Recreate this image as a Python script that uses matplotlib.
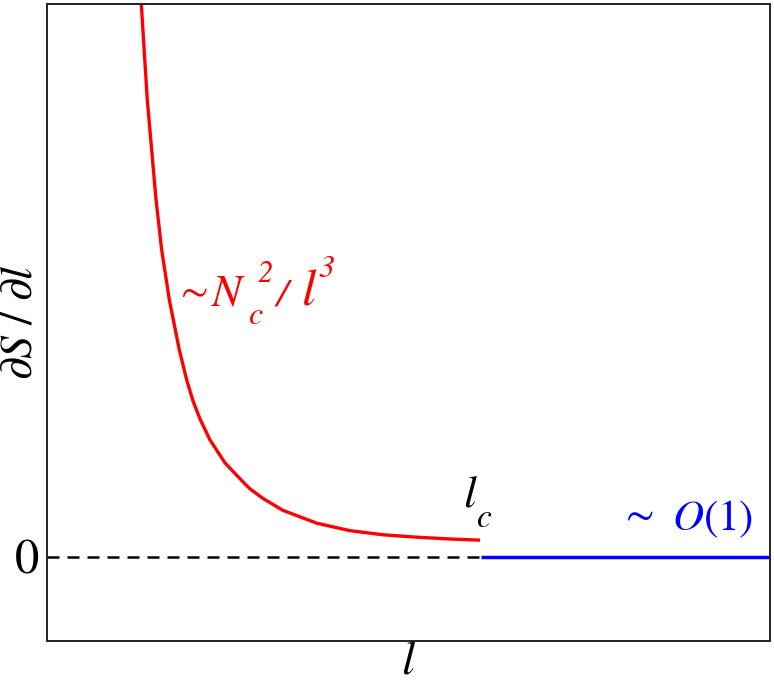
import matplotlib
matplotlib.use("Agg")
import matplotlib.pyplot as plt

plt.rcParams['mathtext.fontset'] = 'stix'
plt.rcParams['font.family'] = ['STIXGeneral', 'DejaVu Serif']

# red branch: points (l, dS/dl)
red_l = [1.281, 1.304, 1.387, 1.508, 1.586, 1.692, 1.830, 1.932, 2.019, 2.116,
         2.254, 2.462, 2.711, 2.808, 2.988, 3.264, 3.734, 4.191, 4.647, 5.118,
         5.574, 5.989]
red_y = [6.869, 6.583, 5.440, 4.250, 3.655, 3.060, 2.464, 2.107, 1.857, 1.643,
         1.393, 1.119, 0.893, 0.810, 0.696, 0.554, 0.401, 0.313, 0.264, 0.235,
         0.214, 0.200]
# dashed zero line below l_c
dash_l = [0.0, 6.1]
dash_y = [0.0, 0.0]
# blue branch above l_c
blue_l = [6.0, 10.0]
blue_y = [0.0, 0.0]

yticks = [0]
ytick_labels = ['0']

W, H = 774, 686
fig = plt.figure(figsize=(W / 100, H / 100), dpi=100)
ax = fig.add_axes([47 / W, 45 / H, 723 / W, 637 / H])


def ptext(x, y, s, size, color, style='italic', ha='left'):
    fig.text(x / W, 1 - y / H, s, fontsize=size, color=color, style=style,
             ha=ha, va='baseline', family=['STIXGeneral', 'DejaVu Serif'])


ax.plot(dash_l, dash_y, color='black', lw=1.8, ls=(0, (4.8, 3.2)))
ax.plot(red_l, red_y, color='#ff0000', lw=2.4, solid_capstyle='butt', solid_joinstyle='round')
ax.plot(blue_l, blue_y, color='#0000ff', lw=2.5, solid_capstyle='butt')

ax.set_xlim(0, 10)
ax.set_ylim(-1, 6.58)
ax.set_xticks([])
ax.set_yticks(yticks)
ax.set_yticklabels(ytick_labels, fontsize=35)
ax.tick_params(axis='y', length=0, pad=6)

for s in ax.spines.values():
    s.set_color('#222222')
    s.set_linewidth(1.4)

# ~ N_c^2 / l^3  (red)
ptext(180, 303, '\u223c', 29, '#ff0000', style='normal')
ptext(212, 305, 'N', 32, '#ff0000')
ptext(248, 324, 'c', 23, '#ff0000')
ptext(258, 282, '2', 22, '#ff0000')
ptext(277, 305, '/', 28, '#ff0000')
ptext(302, 305, 'l', 37, '#ff0000')
ptext(318, 277, '3', 23, '#ff0000')

# l_c (black)
ptext(463, 508, 'l', 33, 'black')
ptext(477, 527, 'c', 24, 'black')

# ~ O(1) (blue)
ptext(626, 527, '\u223c', 30, '#0000ff', style='normal')
fig.text(753 / W, 1 - 530 / H, r'$O(1)$', fontsize=31, color='#0000ff',
         ha='right', va='baseline')

ax.set_xlabel(r'$l$', fontsize=34, labelpad=0)
ax.set_ylabel(r'$\partial S\ /\ \partial l$', fontsize=33)
ax.yaxis.set_label_coords(-0.008, 0.5)

fig.savefig('out.png', dpi=100)
